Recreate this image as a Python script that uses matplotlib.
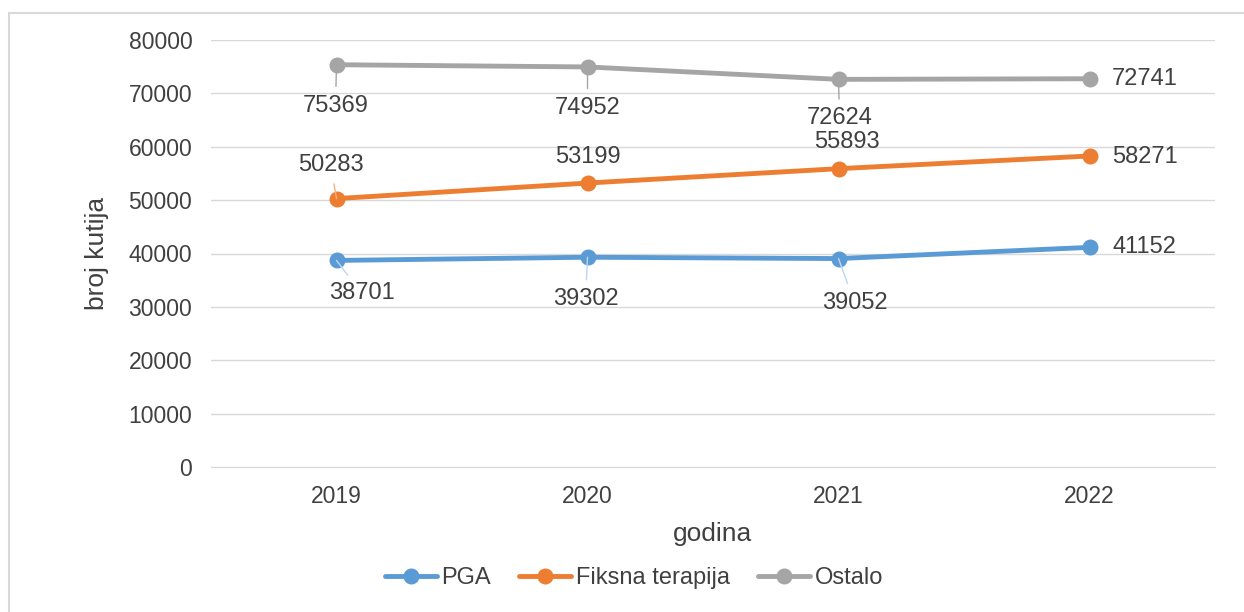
import matplotlib.pyplot as plt
from matplotlib.patches import Rectangle

years = ["2019", "2020", "2021", "2022"]
pga = [38701, 39302, 39052, 41152]
fiksna = [50283, 53199, 55893, 58271]
ostalo = [75369, 74952, 72624, 72741]

# pomaci oznaka u pikselima (dx, dy) i da li ima liniju vodilicu
off_pga = [(25, -33), (-2, -42), (16, -44), (55, 0)]
lead_pga = [True, True, True, False]
off_fiksna = [(-6, 34), (0, 26), (8, 27), (55, -1)]
lead_fiksna = [True, False, False, False]
off_ostalo = [(-1, -41), (0, -41), (1, -39), (55, 0)]
lead_ostalo = [True, True, True, False]

txt = "#404040"
plt.rcParams["font.family"] = ["Liberation Sans", "DejaVu Sans"]

fig = plt.figure(figsize=(12.44, 6.12), dpi=100)
fig.patches.append(Rectangle((8.5 / 1244, -0.1), 1.2, 1 - 12.5 / 612 + 0.1,
                             transform=fig.transFigure, fill=False,
                             edgecolor="#D9D9D9", linewidth=1.5))
ax = fig.add_axes([211 / 1244, 1 - 467 / 612, 1004 / 1244, 427 / 612])

x = range(len(years))
series = [
    ("PGA", pga, "#5B9BD5", "#BDD7EE", off_pga, lead_pga),
    ("Fiksna terapija", fiksna, "#ED7D31", "#F4B183", off_fiksna, lead_fiksna),
    ("Ostalo", ostalo, "#A5A5A5", "#A5A5A5", off_ostalo, lead_ostalo),
]
for name, vals, col, lcol, offs, leads in series:
    ax.plot(x, vals, color=col, linewidth=3.5, marker="o", markersize=10.5,
            label=name, solid_capstyle="round")
    for i, v in enumerate(vals):
        ap = None
        if leads[i]:
            ap = dict(arrowstyle="-", color=lcol, linewidth=1, shrinkA=4, shrinkB=0)
        ax.annotate(str(v), (i, v), xytext=offs[i], textcoords="offset pixels",
                    ha="center", va="center", fontsize=17, color=txt,
                    arrowprops=ap)

ax.set_xlim(-0.5, 3.5)
ax.set_ylim(0, 80000)
ax.set_yticks(range(0, 80001, 10000))
ax.set_xticks(list(x))
ax.set_xticklabels(years)
ax.tick_params(axis="both", length=0, labelsize=16.5, labelcolor=txt)
ax.tick_params(axis="y", pad=13.5)
ax.tick_params(axis="x", pad=13)
ax.grid(axis="y", color="#D9D9D9", linewidth=1)
ax.set_axisbelow(True)
for s in ["top", "right", "left"]:
    ax.spines[s].set_visible(False)
ax.spines["bottom"].set_color("#D9D9D9")
ax.set_xlabel("godina", fontsize=19, color=txt, labelpad=10)
ax.set_ylabel("broj kutija", fontsize=19, color=txt, labelpad=14)

fig.legend(loc="center", bbox_to_anchor=(634 / 1244, 1 - 578 / 612), ncol=3,
           frameon=False, fontsize=17, handlelength=2.2, columnspacing=1.2,
           handletextpad=0.2, labelcolor=txt)

fig.savefig("out.png", dpi=100)
